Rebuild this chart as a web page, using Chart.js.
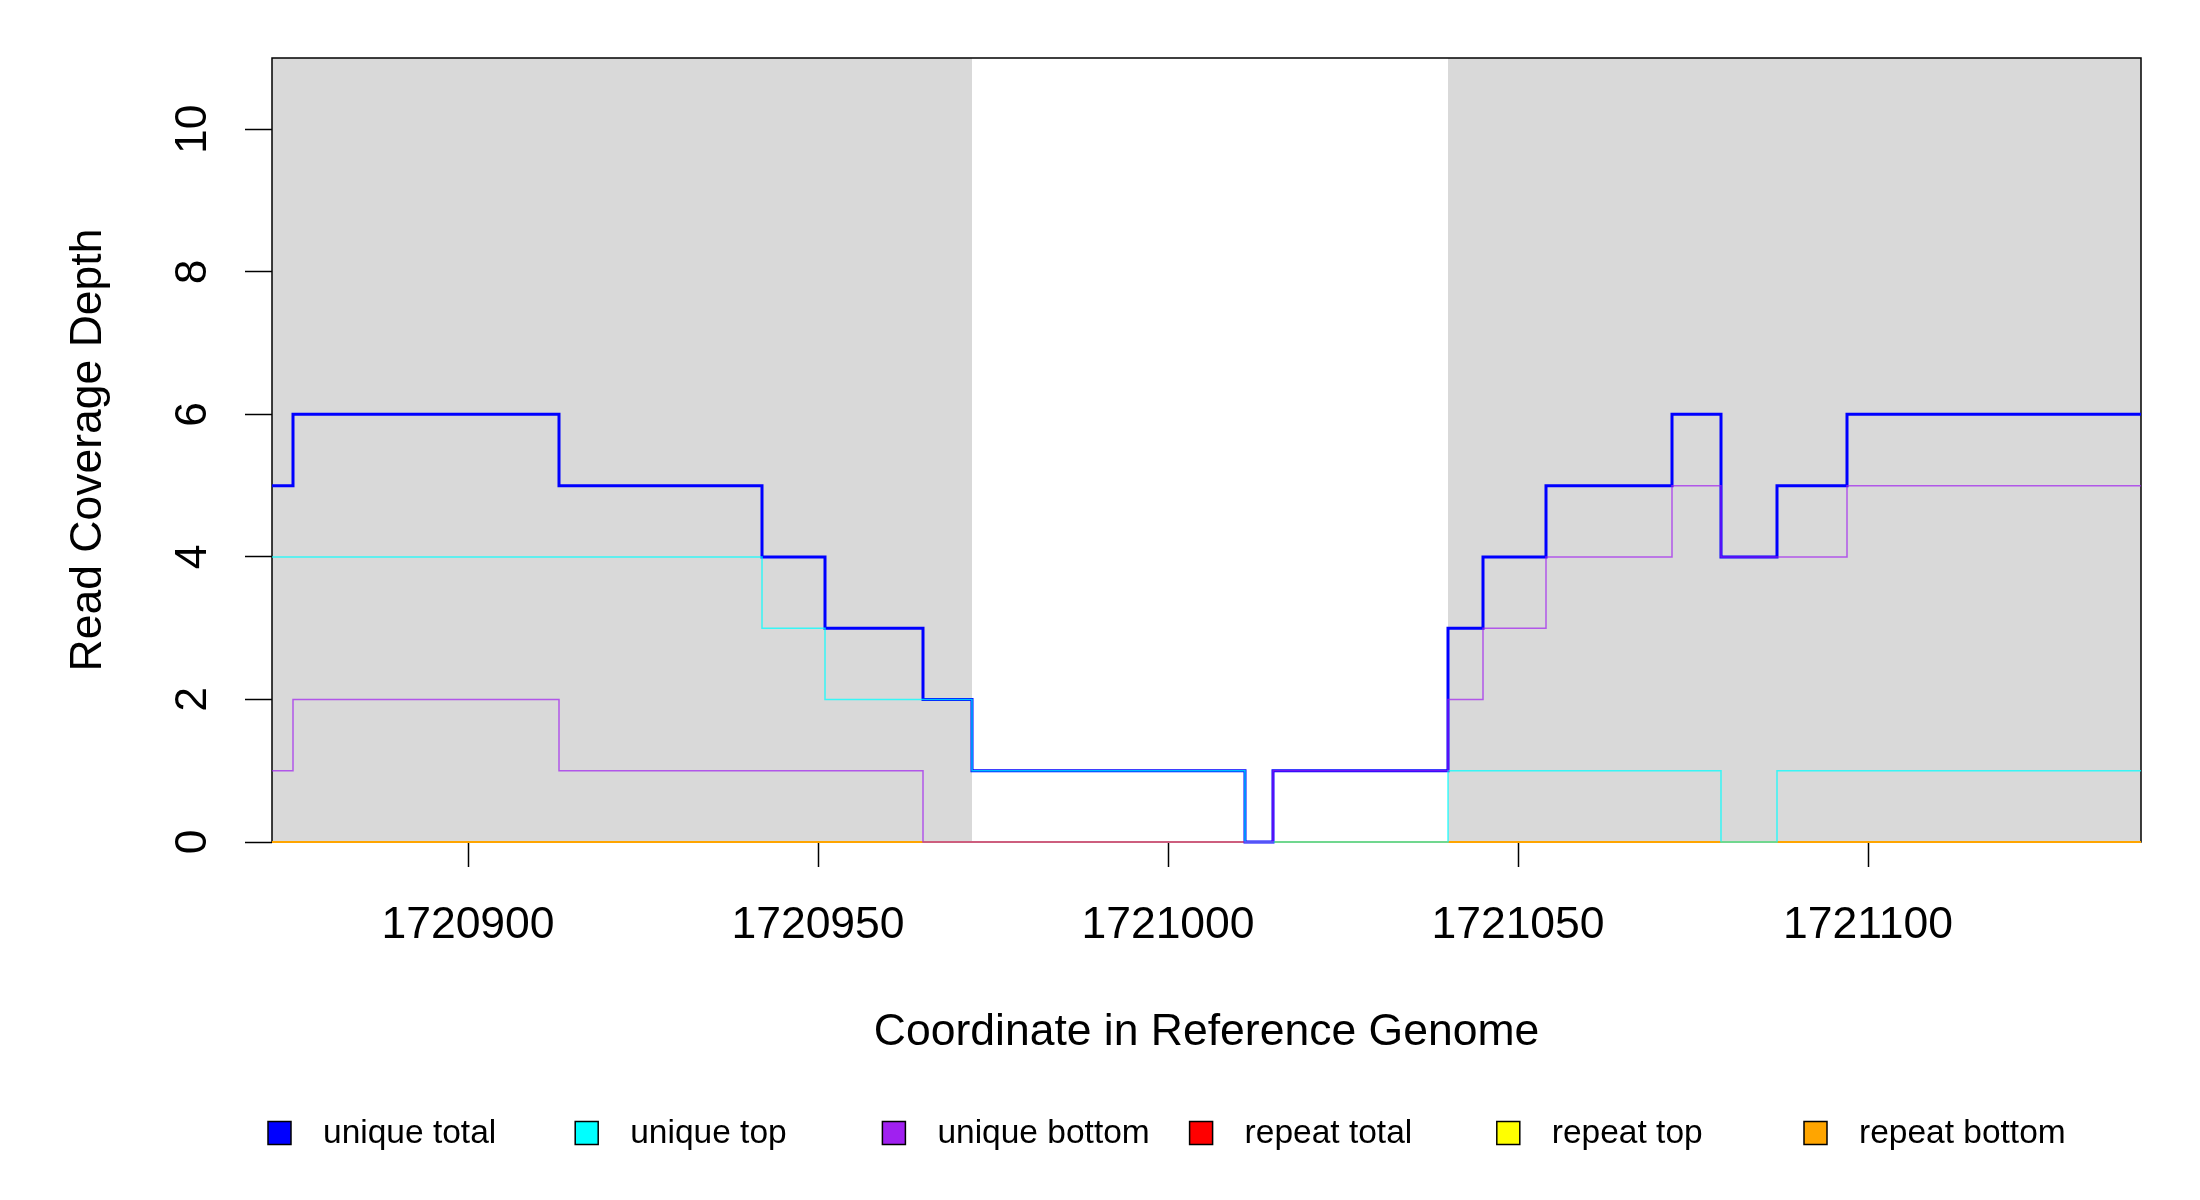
<!DOCTYPE html>
<html>
<head>
<meta charset="utf-8">
<title>Read Coverage Depth</title>
<script src="https://cdn.jsdelivr.net/npm/chart.js@4.4.0/dist/chart.umd.min.js"></script>
<style>
  html, body { margin: 0; padding: 0; background: #ffffff; }
  #wrap { width: 2200px; height: 1200px; }
</style>
</head>
<body>
<div id="wrap"><canvas id="coverageChart" width="2200" height="1200"></canvas></div>
<script>
// step change positions (coordinate in reference genome)
const positions = [1720872, 1720875, 1720913, 1720942, 1720951, 1720965, 1720972, 1721011,
                   1721015, 1721040, 1721045, 1721054, 1721072, 1721079, 1721087, 1721097, 1721139];
// coverage from each position until the next one
const uniqueTotal  = [5, 6, 5, 4, 3, 2, 1, 0, 1, 3, 4, 5, 6, 4, 5, 6, 6];
const uniqueTop    = [4, 4, 4, 3, 2, 2, 1, 0, 0, 1, 1, 1, 1, 0, 1, 1, 1];
const uniqueBottom = [1, 2, 1, 1, 1, 0, 0, 0, 1, 2, 3, 4, 5, 4, 4, 5, 5];
const repeatTotal  = [0, 0, 0, 0, 0, 0, 0, 0, 0, 0, 0, 0, 0, 0, 0, 0, 0];
const repeatTop    = [0, 0, 0, 0, 0, 0, 0, 0, 0, 0, 0, 0, 0, 0, 0, 0, 0];
const repeatBottom = [0, 0, 0, 0, 0, 0, 0, 0, 0, 0, 0, 0, 0, 0, 0, 0, 0];

const seriesNames = ['unique total', 'unique top', 'unique bottom', 'repeat total', 'repeat top', 'repeat bottom'];
const xTickValues = [1720900, 1720950, 1721000, 1721050, 1721100];
const yTickValues = [0, 2, 4, 6, 8, 10];
// shaded (grey) stretches of the reference
const shadedRegions = [[1720872, 1720972], [1721040, 1721139]];

const xMin = 1720872, xMax = 1721139;
const yMin = 0, yMax = 11;

const FONT = 'Liberation Sans';
Chart.defaults.font.family = FONT;
Chart.defaults.color = '#000';

function toPoints(values) {
    return positions.map((x, i) => ({ x: x, y: values[i] }));
}

const seriesValues = [uniqueTotal, uniqueTop, uniqueBottom, repeatTotal, repeatTop, repeatBottom];
const seriesColors = ['#0000ff', '#00ffff', '#a020f0', '#ff0000', '#ffff00', '#ffa500'];
const lineColors   = ['#0000ff', 'rgba(0,255,255,0.75)', 'rgba(160,32,240,0.7)', '#ff0000', '#ffff00', '#ffa500'];
const lineWidths   = [3, 1.5, 1.5, 1.8, 1.8, 1.8];
const drawOrder    = [3, 2, 1, 6, 5, 4]; // lower order ends up on top

const datasets = seriesNames.map((name, i) => ({
    label: name,
    data: toPoints(seriesValues[i]),
    borderColor: lineColors[i],
    backgroundColor: seriesColors[i],
    borderWidth: lineWidths[i],
    stepped: 'before',
    pointRadius: 0,
    fill: false,
    clip: false,
    order: drawOrder[i]
}));

// grey regions + frame under the lines
const backdropPlugin = {
    id: 'backdrop',
    beforeDatasetsDraw(chart) {
        const { ctx, chartArea, scales } = chart;
        ctx.save();
        ctx.fillStyle = '#d9d9d9';
        shadedRegions.forEach(r => {
            const x0 = scales.x.getPixelForValue(r[0]);
            const x1 = scales.x.getPixelForValue(r[1]);
            ctx.fillRect(x0, chartArea.top, x1 - x0, chartArea.bottom - chartArea.top);
        });
        ctx.strokeStyle = '#000';
        ctx.lineWidth = 1.5;
        ctx.strokeRect(chartArea.left, chartArea.top, chartArea.right - chartArea.left, chartArea.bottom - chartArea.top);
        ctx.restore();
    }
};

// horizontal legend with filled boxes, evenly spaced like R's legend(horiz = TRUE)
const boxLegendPlugin = {
    id: 'boxLegend',
    afterDraw(chart) {
        const ctx = chart.ctx;
        const startX = 268, stepX = 307.2, boxSize = 23, centerY = 1133;
        ctx.save();
        ctx.font = '33.5px "' + FONT + '"';
        ctx.textBaseline = 'middle';
        ctx.textAlign = 'left';
        chart.data.datasets.forEach((ds, i) => {
            const bx = startX + i * stepX;
            ctx.fillStyle = ds.backgroundColor;
            ctx.fillRect(bx, centerY - boxSize / 2, boxSize, boxSize);
            ctx.strokeStyle = '#000';
            ctx.lineWidth = 1.5;
            ctx.strokeRect(bx, centerY - boxSize / 2, boxSize, boxSize);
            ctx.fillStyle = '#000';
            ctx.fillText(ds.label, bx + 55, centerY + 1);
        });
        ctx.restore();
    }
};

const ctx = document.getElementById('coverageChart').getContext('2d');
const coverageChart = new Chart(ctx, {
    type: 'line',
    data: { datasets: datasets },
    plugins: [backdropPlugin, boxLegendPlugin],
    options: {
        responsive: false,
        devicePixelRatio: 1,
        animation: false,
        layout: { padding: { left: 0, top: 58, right: 59, bottom: 0 } },
        plugins: {
            legend: { display: false },
            tooltip: { enabled: false }
        },
        scales: {
            x: {
                type: 'linear',
                min: xMin,
                max: xMax,
                afterFit(scale) { scale.height = 358; },
                afterBuildTicks(scale) { scale.ticks = xTickValues.map(v => ({ value: v })); },
                ticks: {
                    callback: v => String(v),
                    font: { size: 44.5 },
                    color: '#000',
                    padding: 32,
                    maxRotation: 0,
                    autoSkip: false
                },
                grid: {
                    drawOnChartArea: false,
                    drawTicks: true,
                    tickLength: 25,
                    tickColor: '#000',
                    tickWidth: 1.5
                },
                border: { display: false },
                title: {
                    display: true,
                    text: 'Coordinate in Reference Genome',
                    font: { size: 44.5 },
                    color: '#000',
                    padding: { top: 0, bottom: 141 }
                }
            },
            y: {
                type: 'linear',
                min: yMin,
                max: yMax,
                afterFit(scale) { scale.width = 272; },
                afterBuildTicks(scale) { scale.ticks = yTickValues.map(v => ({ value: v })); },
                ticks: {
                    font: { size: 44.5 },
                    color: '#000',
                    minRotation: 90,
                    maxRotation: 90,
                    crossAlign: 'center',
                    padding: 27
                },
                grid: {
                    drawOnChartArea: false,
                    drawTicks: true,
                    tickLength: 27,
                    tickColor: '#000',
                    tickWidth: 1.5
                },
                border: { display: false },
                title: {
                    display: true,
                    text: 'Read Coverage Depth',
                    font: { size: 44.5 },
                    color: '#000',
                    padding: { top: 62, bottom: 0 }
                }
            }
        }
    }
});
</script>
</body>
</html>
